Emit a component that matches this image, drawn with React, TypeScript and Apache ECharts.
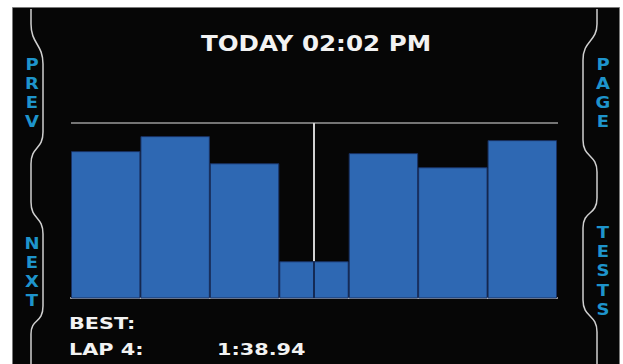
import React, { useEffect, useRef } from "react";
import * as echarts from "echarts";

// ---- data ----
const laps = ["LAP 1", "LAP 2", "LAP 3", "LAP 4", "LAP 5", "LAP 6", "LAP 7"];
const lapTimes = [107.75, 108.95, 106.78, 98.94, 107.59, 106.46, 108.63]; // seconds
const yMin = 96;
const yMax = 110;
const currentLapIndex = 3;
const titleText = "TODAY 02:02 PM";
const bestLabel = "BEST:";
const bestLapLabel = "LAP 4:";
const bestLapTime = "1:38.94";
const leftTop = ["P", "R", "E", "V"];
const leftBottom = ["N", "E", "X", "T"];
const rightTop = ["P", "A", "G", "E"];
const rightBottom = ["T", "E", "S", "T", "S"];

const LEFT_BRACKET =
  "M31 9 L31 24 C31 44 43 44 43 64 L43 132 C43 150 31 146 31 164 L31 202 C31 220 43 216 43 234 L43 306 C43 324 31 318 31 334 L31 364";
const RIGHT_BRACKET =
  "M597 9 L597 24 C597 42 583 40 583 60 L583 140 C583 158 597 154 597 172 L597 198 C597 216 583 210 583 228 L583 300 C583 318 597 314 597 332 L597 364";

echarts.graphic.registerShape("leftBracket", echarts.graphic.extendPath(LEFT_BRACKET, {}));
echarts.graphic.registerShape("rightBracket", echarts.graphic.extendPath(RIGHT_BRACKET, {}));

const BLUE_TEXT = "#1e94cc";
const FONT = "DejaVu Sans";

function sideLetters(letters: string[], cx: number, y0: number, step: number) {
  return letters.map((ch, i) => ({
    type: "text",
    x: cx,
    y: y0 + i * step,
    scaleX: 1.2,
    z: 5,
    style: {
      text: ch,
      fill: BLUE_TEXT,
      font: `bold 15px "${FONT}"`,
      textAlign: "center",
      textVerticalAlign: "middle",
    },
  }));
}

export default function App() {
  const ref = useRef<HTMLDivElement>(null);
  useEffect(() => {
    if (!ref.current) return;
    const chart = echarts.init(ref.current, undefined, { renderer: "svg" });
    const option: any = {
      animation: false,
      backgroundColor: "#ffffff",
      grid: { left: 71, right: 66, top: 123, bottom: 66 },
      xAxis: {
        type: "category",
        data: laps,
        axisLine: { show: true, onZero: false, lineStyle: { color: "#b8b8b8", width: 2 } },
        axisTick: { show: false },
        axisLabel: { show: false },
      },
      yAxis: {
        type: "value",
        min: yMin,
        max: yMax,
        axisLine: { show: false },
        axisTick: { show: false },
        axisLabel: { show: false },
        splitLine: { show: false },
      },
      series: [
        {
          type: "bar",
          data: lapTimes,
          barCategoryGap: 0,
          z: 2,
          itemStyle: { color: "#2e68b3", borderColor: "#1a3263", borderWidth: 1 },
          markLine: {
            silent: true,
            symbol: "none",
            label: { show: false },
            data: [
              [
                { yAxis: yMax, x: 71, lineStyle: { color: "#9a9a9a", width: 1.5, type: "solid" } },
                { yAxis: yMax, x: 558 },
              ],
              [
                { coord: [laps[currentLapIndex], yMax], lineStyle: { color: "#d2d2d2", width: 2, type: "solid" } },
                { coord: [laps[currentLapIndex], lapTimes[currentLapIndex]] },
              ],
              [
                { coord: [laps[currentLapIndex], lapTimes[currentLapIndex]], lineStyle: { color: "#142a55", width: 2, type: "solid" } },
                { coord: [laps[currentLapIndex], yMin] },
              ],
            ],
          },
        },
      ],
      graphic: [
        {
          type: "rect",
          z: -10,
          shape: { x: 12.5, y: 7.5, width: 607, height: 362 },
          style: { fill: "#060606", stroke: "#7a7a7a", lineWidth: 1 },
        },
        {
          type: "leftBracket",
          z: 1,
          style: { fill: "none", stroke: "#cfcfcf", lineWidth: 1.5 },
        },
        {
          type: "rightBracket",
          z: 1,
          style: { fill: "none", stroke: "#cfcfcf", lineWidth: 1.5 },
        },
        {
          type: "text",
          x: 316,
          y: 44,
          scaleX: 1.17,
          z: 5,
          style: {
            text: titleText,
            fill: "#f2f2f2",
            font: `bold 21px "${FONT}"`,
            textAlign: "center",
            textVerticalAlign: "middle",
          },
        },
        {
          type: "text",
          x: 69,
          y: 323,
          scaleX: 1.3,
          z: 5,
          style: { text: bestLabel, fill: "#f2f2f2", font: `bold 16px "${FONT}"`, textAlign: "left", textVerticalAlign: "middle" },
        },
        {
          type: "text",
          x: 69,
          y: 349,
          scaleX: 1.3,
          z: 5,
          style: { text: bestLapLabel, fill: "#f2f2f2", font: `bold 16px "${FONT}"`, textAlign: "left", textVerticalAlign: "middle" },
        },
        {
          type: "text",
          x: 217,
          y: 349,
          scaleX: 1.3,
          z: 5,
          style: { text: bestLapTime, fill: "#f2f2f2", font: `bold 16px "${FONT}"`, textAlign: "left", textVerticalAlign: "middle" },
        },
        ...sideLetters(leftTop, 32, 65, 19),
        ...sideLetters(leftBottom, 32, 244, 19),
        ...sideLetters(rightTop, 603, 65, 19),
        ...sideLetters(rightBottom, 603, 233, 19.2),
      ],
    };
    chart.setOption(option);
    return () => chart.dispose();
  }, []);
  return (
    <div
      ref={ref}
      style={{ position: "fixed", left: 0, top: 0, width: 623, height: 364 }}
    />
  );
}
